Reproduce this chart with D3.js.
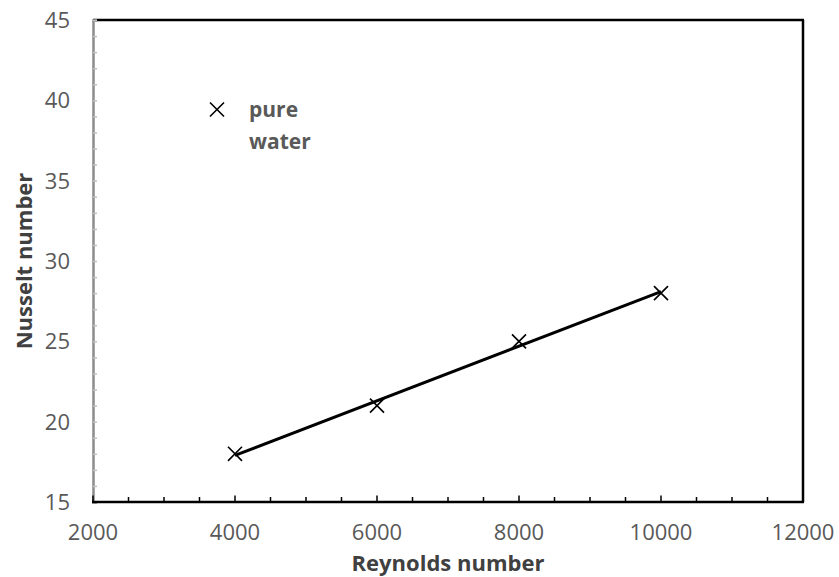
<!DOCTYPE html>
<html>
<head>
<meta charset="utf-8">
<script src="https://cdn.jsdelivr.net/npm/d3@7"></script>
<style>
  html, body { margin: 0; padding: 0; background: #fff; }
  svg { display: block; }
  text { font-family: "Open Sans", "Liberation Sans", sans-serif; }
</style>
</head>
<body>
<svg id="chart" width="839" height="577"></svg>
<script>
// Measured Nusselt numbers for pure water at each Reynolds number
const reynolds = [4000, 6000, 8000, 10000];
const nusselt = [18, 21, 25, 28];

const xTicks = [2000, 4000, 6000, 8000, 10000, 12000];
const yTicks = [15, 20, 25, 30, 35, 40, 45];
const seriesName = ["pure", "water"];

const plot = { left: 93, right: 803, top: 20, bottom: 502 };
const labelGray = "#595959";
const titleGray = "#404040";

const svg = d3.select("#chart");

const x = d3.scaleLinear().domain([2000, 12000]).range([plot.left, plot.right]);
const y = d3.scaleLinear().domain([15, 45]).range([plot.bottom, plot.top]);

// Plot frame: top and right in black, the value axis in grey
svg.append("line")
  .attr("x1", plot.left).attr("x2", plot.right + 1)
  .attr("y1", plot.top).attr("y2", plot.top)
  .attr("stroke", "#000").attr("stroke-width", 2.5);
svg.append("line")
  .attr("x1", plot.right).attr("x2", plot.right)
  .attr("y1", plot.top).attr("y2", plot.bottom)
  .attr("stroke", "#000").attr("stroke-width", 2.5);

// Y axis: grey line, minor ticks every unit pointing into the plot
const yAxis = d3.axisRight(y)
  .tickValues(d3.range(15, 46, 1))
  .tickSize(4)
  .tickFormat("");
const gy = svg.append("g").attr("transform", `translate(${plot.left},0)`).call(yAxis);
gy.select(".domain").attr("stroke", "#8c8c8c").attr("stroke-width", 2.5);
gy.selectAll(".tick line").attr("stroke", "#bfbfbf").attr("stroke-width", 1.5);

// Y tick labels
svg.append("g").selectAll("text").data(yTicks).join("text")
  .attr("x", plot.left - 23)
  .attr("y", d => y(d))
  .attr("dy", "0.36em")
  .attr("text-anchor", "end")
  .attr("font-size", 22)
  .attr("fill", labelGray)
  .text(d => d);

// X axis: black line, minor ticks every 500 pointing up, taller at labelled values
const xMinor = d3.range(2000, 12001, 500);
const gx = svg.append("g");
gx.append("line")
  .attr("x1", plot.left - 1).attr("x2", plot.right + 1)
  .attr("y1", plot.bottom).attr("y2", plot.bottom)
  .attr("stroke", "#000").attr("stroke-width", 2.5);
gx.selectAll("line.tick").data(xMinor).join("line")
  .attr("class", "tick")
  .attr("x1", d => x(d)).attr("x2", d => x(d))
  .attr("y1", plot.bottom)
  .attr("y2", d => plot.bottom - (d % 2000 === 0 ? 6.5 : 5))
  .attr("stroke", "#000").attr("stroke-width", 1.5);

svg.append("g").selectAll("text").data(xTicks).join("text")
  .attr("x", d => x(d))
  .attr("y", 540)
  .attr("text-anchor", "middle")
  .attr("font-size", 22)
  .attr("fill", labelGray)
  .text(d => d);

// Axis titles
svg.append("text")
  .attr("x", (plot.left + plot.right) / 2)
  .attr("y", 571)
  .attr("text-anchor", "middle")
  .attr("font-size", 22)
  .attr("font-weight", "bold")
  .attr("fill", titleGray)
  .text("Reynolds number");
svg.append("text")
  .attr("transform", `translate(32,${(plot.top + plot.bottom) / 2}) rotate(-90)`)
  .attr("text-anchor", "middle")
  .attr("font-size", 22)
  .attr("font-weight", "bold")
  .attr("fill", titleGray)
  .text("Nusselt number");

// Linear least-squares trendline through the measurements
const mx = d3.mean(reynolds), my = d3.mean(nusselt);
const slope = d3.sum(reynolds, (r, i) => (r - mx) * (nusselt[i] - my)) /
              d3.sum(reynolds, r => (r - mx) ** 2);
const intercept = my - slope * mx;
const xr = d3.extent(reynolds);
svg.append("path")
  .datum(xr.map(r => [r, intercept + slope * r]))
  .attr("d", d3.line().x(d => x(d[0])).y(d => y(d[1])))
  .attr("stroke", "#000").attr("stroke-width", 3).attr("fill", "none");

// Cross markers
const cross = d3.symbol().type(d3.symbolX).size(130);
svg.append("g").selectAll("path").data(reynolds).join("path")
  .attr("transform", (d, i) => `translate(${x(d)},${y(nusselt[i])})`)
  .attr("d", cross)
  .attr("fill", "none").attr("stroke", "#000").attr("stroke-width", 1.6);

// Legend
const legend = svg.append("g");
legend.append("path")
  .attr("transform", "translate(217,109.5)")
  .attr("d", cross)
  .attr("fill", "none").attr("stroke", "#000").attr("stroke-width", 1.6);
legend.selectAll("text").data(seriesName).join("text")
  .attr("x", 249)
  .attr("y", (d, i) => 117 + i * 32)
  .attr("font-size", 21)
  .attr("font-weight", "bold")
  .attr("fill", labelGray)
  .text(d => d);
</script>
</body>
</html>
